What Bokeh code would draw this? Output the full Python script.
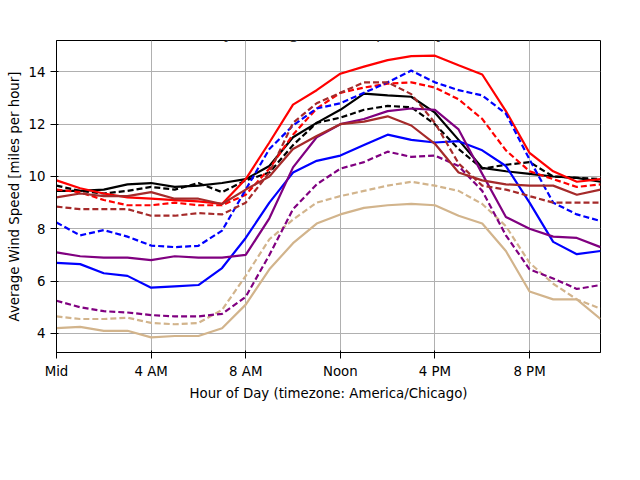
from bokeh.plotting import figure
from bokeh.models import Legend, LegendItem, FixedTicker, Range1d, Label
from bokeh.embed import file_html
from bokeh.resources import INLINE

hours = list(range(24))
months = ["Jan","Feb","Mar","Apr","May","Jun","Jul","Aug","Sep","Oct","Nov","Dec"]
colors = ["black","black","red","red","blue","blue","tan","tan","purple","purple","brown","brown"]
dashed = [True,False,True,False,True,False,True,False,True,False,True,False]

jan = [9.65,9.45,9.35,9.45,9.6,9.5,9.75,9.4,9.85,10.15,11.2,12.05,12.25,12.55,12.7,12.65,12.0,11.05,10.3,10.45,10.55,10.0,9.95,9.9]
feb = [9.45,9.45,9.5,9.7,9.75,9.6,9.65,9.75,9.9,10.4,11.5,12.05,12.55,13.17,13.1,13.05,12.44,11.4,10.33,10.2,10.1,10.0,9.95,9.8]
mar = [9.5,9.4,9.1,8.9,8.9,9.0,8.9,8.9,9.3,10.3,11.6,12.6,13.2,13.4,13.55,13.6,13.4,12.95,12.2,11.0,10.2,9.9,9.6,9.7]
apr = [9.85,9.55,9.35,9.2,9.15,9.1,9.05,8.95,9.9,11.3,12.75,13.3,13.93,14.2,14.45,14.6,14.62,14.25,13.9,12.5,10.9,10.2,9.8,9.9]
may = [8.24,7.75,7.95,7.7,7.36,7.3,7.35,7.93,9.5,11.05,11.95,12.6,12.8,13.2,13.6,14.05,13.6,13.3,13.1,12.4,10.65,9.0,8.55,8.3]
jun = [6.7,6.65,6.3,6.2,5.75,5.8,5.85,6.5,7.65,9.0,10.15,10.6,10.8,11.2,11.6,11.4,11.3,11.35,11.0,10.4,9.0,7.5,7.03,7.15]
jul = [4.65,4.55,4.55,4.6,4.4,4.35,4.4,4.9,6.2,7.6,8.35,9.0,9.25,9.45,9.65,9.8,9.65,9.45,8.95,8.1,6.7,5.9,5.3,4.95]
aug = [4.2,4.25,4.1,4.1,3.85,3.9,3.9,4.2,5.1,6.45,7.45,8.2,8.55,8.8,8.9,8.95,8.9,8.5,8.2,7.15,5.6,5.3,5.3,4.55]
sep = [5.25,5.0,4.85,4.8,4.7,4.65,4.65,4.75,5.4,7.0,8.75,9.7,10.3,10.55,10.95,10.75,10.8,10.4,9.45,7.75,6.45,6.1,5.7,5.85]
oct_ = [7.1,6.95,6.9,6.9,6.8,6.95,6.9,6.9,7.0,8.4,10.35,11.5,12.0,12.2,12.5,12.6,12.55,11.8,10.1,8.45,8.0,7.7,7.65,7.3]
nov = [8.85,8.75,8.75,8.75,8.5,8.5,8.6,8.55,9.0,10.15,12.05,12.8,13.2,13.6,13.6,13.15,12.05,10.5,9.65,9.5,9.25,9.0,9.0,9.0]
dec = [9.2,9.35,9.25,9.25,9.4,9.15,9.15,8.95,9.5,10.0,11.05,11.55,12.0,12.1,12.3,11.95,11.25,10.15,9.85,9.7,9.65,9.65,9.3,9.5]
series = [jan,feb,mar,apr,may,jun,jul,aug,sep,oct_,nov,dec]

xticks = [0,4,8,12,16,20]
xlabels = ["Mid","4 AM","8 AM","Noon","4 PM","8 PM"]
yticks = [4,6,8,10,12,14]

p = figure(width=624, height=464, output_backend="svg", toolbar_location=None,
           x_range=Range1d(0,23), y_range=Range1d(3.27,15.2),
           min_border_left=56, min_border_right=24, min_border_bottom=112, min_border_top=40)
p.outline_line_color = "black"

items = []
for m, c, d, ys in zip(months, colors, dashed, series):
    r = p.line(hours, ys, line_color=c, line_width=2.2, line_dash="6 3" if d else "solid")
    items.append(LegendItem(label=m, renderers=[r]))

p.xaxis.ticker = FixedTicker(ticks=xticks)
p.xaxis.major_label_overrides = {t: l for t, l in zip(xticks, xlabels)}
p.yaxis.ticker = FixedTicker(ticks=yticks)
p.xaxis.axis_label = "Hour of Day (timezone: America/Chicago)"
p.yaxis.axis_label = "Average Wind Speed [miles per hour]"
for ax in (p.xaxis[0], p.yaxis[0]):
    ax.axis_label_text_font = "DejaVu Sans"
    ax.axis_label_text_font_size = "10pt"
    ax.axis_label_text_font_style = "normal"
    ax.axis_label_text_color = "black"
    ax.major_label_text_font = "DejaVu Sans"
    ax.major_label_text_font_size = "10pt"
    ax.major_label_text_color = "black"
    ax.minor_tick_line_color = None
    ax.axis_label_standoff = 4
p.grid.grid_line_color = "#b0b0b0"
p.grid.grid_line_alpha = 1.0

leg = Legend(items=items, ncols=6, orientation="horizontal", location=(0, -98),
             label_text_font="DejaVu Sans", label_text_font_size="10pt",
             glyph_width=34, spacing=8, padding=6, margin=0,
             border_line_color="#cccccc", label_standoff=6, label_width=40)
p.add_layout(leg, "center")

p.add_layout(Label(x=11.5, y=15.2 + 40/26.2, text="[AMW] Ames [1996-2019]", text_align="center",
                   text_baseline="top", text_font="DejaVu Sans", text_font_size="13pt"))
p.add_layout(Label(x=11.5, y=15.2 + 19/26.2, text="Monthly Average Wind Speed by Hour", text_align="center",
                   text_baseline="top", text_font="DejaVu Sans", text_font_size="13pt"))
p.add_layout(Label(x=-56/23.65, y=3.27 - 110/26.2, text="Generated at 1 Apr 2019 9:25 AM CDT in 2.16s",
                   text_baseline="bottom", text_font="DejaVu Sans", text_font_size="8pt"))
p.add_layout(Label(x=22.95 + 20/23.65, y=3.27 - 110/26.2, text="IEM Autoplot App #173", text_align="right",
                   text_baseline="bottom", text_font="DejaVu Sans", text_font_size="8pt"))

open("out.html", "w").write(file_html(p, INLINE))
